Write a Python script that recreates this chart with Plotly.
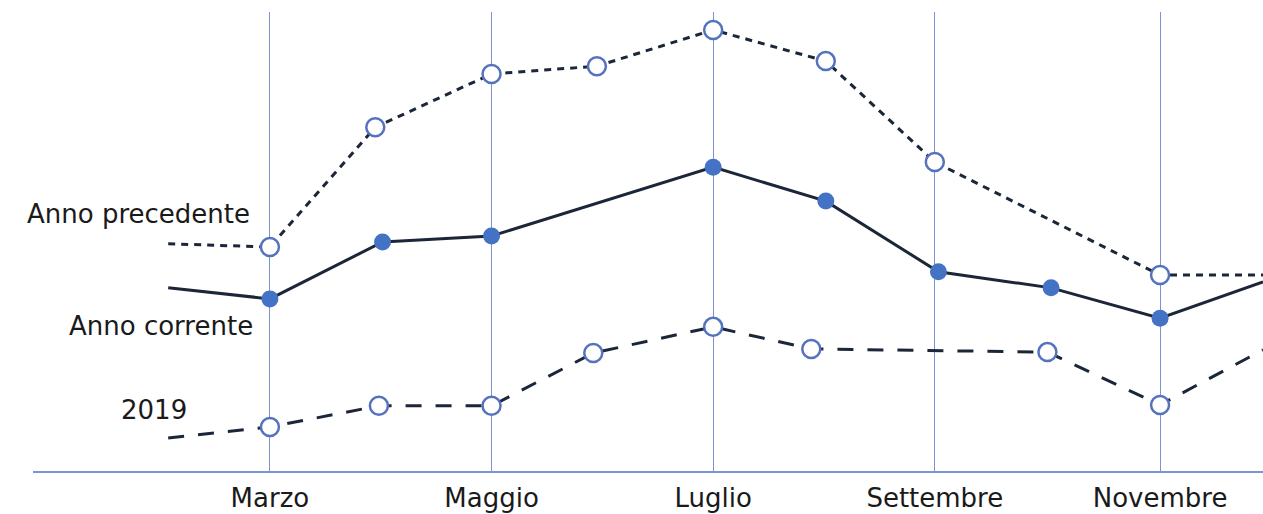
import plotly.graph_objects as go

# Data
corrente_x = ["2021-02-01", "2021-03-01", "2021-04-01", "2021-05-01", "2021-07-01",
              "2021-08-01", "2021-09-01", "2021-10-02", "2021-11-01", "2021-11-29 08:00"]
corrente_y = [39.9, 37.5, 49.9, 51.2, 66.2, 58.8, 43.4, 39.9, 33.3, 41.2]
corrente_marker = [False, True, True, True, True, True, True, True, True, False]

precedente_x = ["2021-02-01", "2021-03-01", "2021-03-30", "2021-05-01", "2021-05-30",
                "2021-07-01", "2021-08-01", "2021-08-31", "2021-11-01", "2021-11-29 08:00"]
precedente_y = [49.5, 48.8, 74.9, 86.5, 88.2, 96.1, 89.3, 67.3, 42.7, 42.7]
precedente_marker = [False, True, True, True, True, True, True, True, True, False]

anno2019_x = ["2021-02-01", "2021-03-01", "2021-03-31", "2021-05-01", "2021-05-29",
              "2021-07-01", "2021-07-28", "2021-10-01", "2021-11-01", "2021-11-29 08:00"]
anno2019_y = [7.2, 9.6, 14.2, 14.2, 25.7, 31.4, 26.6, 25.9, 14.4, 26.4]
anno2019_marker = [False, True, True, True, True, True, True, True, True, False]

tick_vals = ["2021-03-01", "2021-05-01", "2021-07-01", "2021-08-31", "2021-11-01"]
tick_text = ["Marzo", "Maggio", "Luglio", "Settembre", "Novembre"]

LINE = "#1c2639"
BLUE = "#4472c4"
OUTLINE = "#5572bf"
GRID = "#7d94d4"
FONT = "DejaVu Sans"
FSIZE = 26

fig = go.Figure()


def add_series(xs, ys, show, dash, filled):
    fig.add_trace(go.Scatter(x=xs, y=ys, mode="lines",
                             line=dict(color=LINE, width=3, dash=dash),
                             hoverinfo="skip", showlegend=False))
    mx = [x for x, s in zip(xs, show) if s]
    my = [y for y, s in zip(ys, show) if s]
    fig.add_trace(go.Scatter(x=mx, y=my, mode="markers",
                             marker=dict(size=17 if filled else 18,
                                         color=BLUE if filled else "white",
                                         line=dict(color=BLUE if filled else OUTLINE,
                                                   width=0 if filled else 2.5)),
                             showlegend=False))


add_series(anno2019_x, anno2019_y, anno2019_marker, "16px,14px", False)
add_series(precedente_x, precedente_y, precedente_marker, "7px,6px", False)
add_series(corrente_x, corrente_y, corrente_marker, "solid", True)

ann_font = dict(family=FONT, size=FSIZE, color="#1a1a1a")
fig.add_annotation(text="Anno precedente", xref="paper", yref="paper",
                   x=(252 - 33) / 1230, y=(471 - 214) / 459,
                   xanchor="right", yanchor="middle", showarrow=False, font=ann_font)
fig.add_annotation(text="Anno corrente", xref="paper", yref="paper",
                   x=(255 - 33) / 1230, y=(471 - 326) / 459,
                   xanchor="right", yanchor="middle", showarrow=False, font=ann_font)
fig.add_annotation(text="2019", xref="paper", yref="paper",
                   x=(189 - 33) / 1230, y=(471 - 410) / 459,
                   xanchor="right", yanchor="middle", showarrow=False, font=ann_font)

fig.update_layout(
    width=1263, height=514,
    margin=dict(l=33, r=0, t=12, b=43),
    paper_bgcolor="white", plot_bgcolor="white",
    font=dict(family=FONT, size=FSIZE, color="#1a1a1a"),
    xaxis=dict(type="date", range=["2020-12-25 19:00", "2021-11-29 08:00"],
               tickmode="array", tickvals=tick_vals, ticktext=tick_text,
               showgrid=True, gridcolor=GRID, gridwidth=1.3,
               showline=True, linecolor=GRID, linewidth=1.6,
               ticks="", zeroline=False, tickfont=dict(size=FSIZE),
               ticklabelstandoff=3),
    yaxis=dict(range=[0, 100], showgrid=False, showticklabels=False,
               zeroline=False, showline=False, ticks=""),
)

fig.write_html("out.html")
